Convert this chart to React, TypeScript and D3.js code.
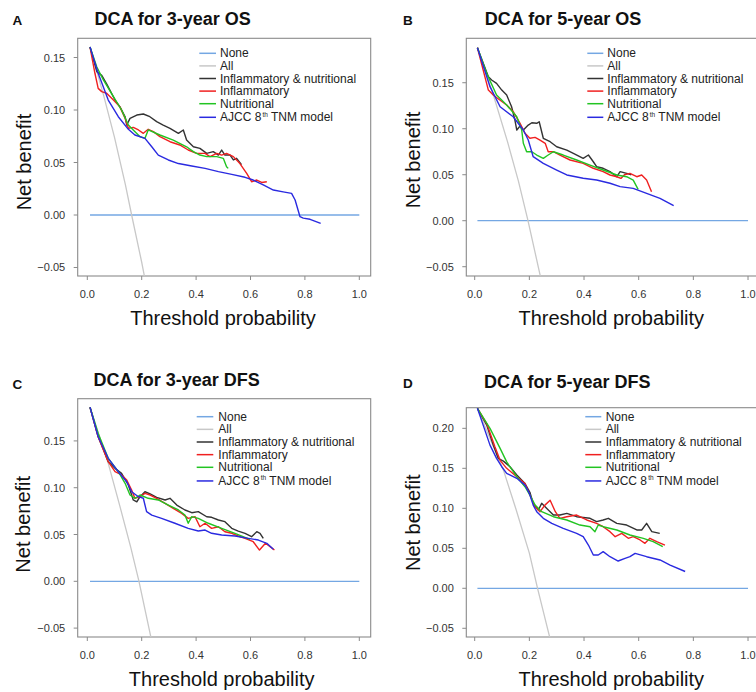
import React from "react";
import * as d3 from "d3";

type Pt = [number, number];

// ---------- tick labels / categories ----------
const xTicks = [0, 0.2, 0.4, 0.6, 0.8, 1.0];
const yTicksStd = [-0.05, 0, 0.05, 0.1, 0.15];
const yTicksD = [-0.05, 0, 0.05, 0.1, 0.15, 0.2];
const legendLabels = ["None", "All", "Inflammatory & nutritional", "Inflammatory", "Nutritional", "AJCC 8th TNM model"];
const panelTitles = ["DCA for 3-year OS", "DCA for 5-year OS", "DCA for 3-year DFS", "DCA for 5-year DFS"];
const panelLetters = ["A", "B", "C", "D"];

// ---------- series ----------
const noneLine: Pt[] = [[0.01, 0], [1, 0]];

// Panel A: 3-year OS
const aAll: Pt[] = [[0.01, 0.16], [0.06, 0.114], [0.10, 0.074], [0.14, 0.029], [0.163, 0], [0.2, -0.045], [0.215, -0.065]];
const aCombined: Pt[] = [[0.01, 0.16], [0.035, 0.1365], [0.053, 0.133], [0.071, 0.125], [0.083, 0.119], [0.102, 0.1095], [0.12, 0.103], [0.139, 0.0936], [0.145, 0.0857], [0.157, 0.092], [0.182, 0.0952], [0.206, 0.0962], [0.23, 0.0936], [0.255, 0.0889], [0.279, 0.0857], [0.304, 0.0826], [0.335, 0.0778], [0.353, 0.081], [0.365, 0.0714], [0.39, 0.065], [0.414, 0.0635], [0.439, 0.0587], [0.463, 0.0603], [0.482, 0.0571], [0.494, 0.0619], [0.506, 0.0571], [0.525, 0.0571], [0.537, 0.0524], [0.549, 0.054], [0.567, 0.048]];
const aInflam: Pt[] = [[0.01, 0.16], [0.028, 0.135], [0.04, 0.1206], [0.053, 0.1175], [0.071, 0.116], [0.096, 0.1095], [0.12, 0.103], [0.139, 0.092], [0.151, 0.0826], [0.169, 0.0835], [0.188, 0.081], [0.206, 0.0778], [0.224, 0.0816], [0.243, 0.0794], [0.267, 0.0746], [0.304, 0.0698], [0.34, 0.0667], [0.371, 0.0619], [0.402, 0.0587], [0.433, 0.0587], [0.451, 0.0556], [0.476, 0.0587], [0.494, 0.0571], [0.512, 0.0587], [0.537, 0.0556], [0.561, 0.049], [0.586, 0.0397], [0.604, 0.0317], [0.623, 0.0333], [0.641, 0.031], [0.66, 0.0317]];
const aNutri: Pt[] = [[0.01, 0.16], [0.035, 0.141], [0.059, 0.1286], [0.096, 0.1127], [0.126, 0.1], [0.151, 0.0857], [0.169, 0.081], [0.194, 0.0746], [0.212, 0.073], [0.224, 0.081], [0.267, 0.0762], [0.316, 0.0714], [0.365, 0.065], [0.39, 0.0603], [0.414, 0.0571], [0.439, 0.0556], [0.476, 0.0556], [0.5, 0.054], [0.512, 0.046], [0.518, 0.0444]];
const aAjcc: Pt[] = [[0.01, 0.16], [0.04, 0.135], [0.077, 0.1095], [0.114, 0.0936], [0.151, 0.0816], [0.175, 0.0762], [0.212, 0.073], [0.237, 0.065], [0.261, 0.057], [0.298, 0.0524], [0.335, 0.049], [0.384, 0.0467], [0.433, 0.0444], [0.482, 0.0413], [0.531, 0.0387], [0.58, 0.0359], [0.61, 0.0333], [0.647, 0.0286], [0.684, 0.0238], [0.72, 0.022], [0.751, 0.0206], [0.764, 0.0143], [0.782, -0.0016], [0.794, -0.003], [0.819, -0.0041], [0.858, -0.008]];

// Panel B: 5-year OS
const bAll: Pt[] = [[0.01, 0.188], [0.07, 0.135], [0.12, 0.086], [0.16, 0.043], [0.195, 0], [0.24, -0.06]];
const bCombined: Pt[] = [[0.01, 0.188], [0.05, 0.1565], [0.062, 0.153], [0.08, 0.1493], [0.099, 0.142], [0.117, 0.1366], [0.135, 0.1239], [0.147, 0.1095], [0.154, 0.0986], [0.166, 0.103], [0.178, 0.0986], [0.196, 0.104], [0.209, 0.1065], [0.227, 0.1059], [0.236, 0.1076], [0.251, 0.0896], [0.276, 0.0859], [0.3, 0.0804], [0.337, 0.0768], [0.361, 0.0733], [0.397, 0.0678], [0.416, 0.0714], [0.434, 0.0641], [0.446, 0.0587], [0.47, 0.057], [0.495, 0.0533], [0.52, 0.0478], [0.532, 0.0533], [0.556, 0.0515], [0.573, 0.05]];
const bInflam: Pt[] = [[0.01, 0.188], [0.05, 0.142], [0.068, 0.1366], [0.093, 0.131], [0.117, 0.1258], [0.141, 0.1185], [0.166, 0.1059], [0.184, 0.095], [0.202, 0.0896], [0.221, 0.0906], [0.239, 0.0877], [0.258, 0.0841], [0.269, 0.075], [0.288, 0.075], [0.312, 0.0714], [0.349, 0.066], [0.397, 0.0624], [0.434, 0.057], [0.47, 0.0533], [0.495, 0.0497], [0.52, 0.0478], [0.535, 0.046], [0.548, 0.05], [0.568, 0.0515], [0.593, 0.0478], [0.611, 0.0497], [0.629, 0.0442], [0.647, 0.0315]];
const bNutri: Pt[] = [[0.01, 0.188], [0.044, 0.1602], [0.08, 0.1366], [0.117, 0.1258], [0.154, 0.113], [0.172, 0.0986], [0.178, 0.0841], [0.19, 0.075], [0.209, 0.075], [0.227, 0.0714], [0.251, 0.0678], [0.269, 0.0714], [0.288, 0.075], [0.324, 0.0714], [0.373, 0.066], [0.422, 0.0605], [0.47, 0.0551], [0.52, 0.0497], [0.556, 0.0478], [0.58, 0.0442], [0.598, 0.0341]];
const bAjcc: Pt[] = [[0.01, 0.188], [0.056, 0.1457], [0.093, 0.1239], [0.141, 0.113], [0.178, 0.0986], [0.196, 0.0877], [0.214, 0.0696], [0.251, 0.0624], [0.3, 0.0551], [0.337, 0.0497], [0.397, 0.0461], [0.446, 0.0442], [0.495, 0.0407], [0.532, 0.037], [0.58, 0.0352], [0.629, 0.0298], [0.678, 0.0243], [0.728, 0.0163]];

// Panel C: 3-year DFS
const cAll: Pt[] = [[0.01, 0.186], [0.077, 0.126], [0.12, 0.08], [0.16, 0.036], [0.19, 0], [0.234, -0.06]];
const cCombined: Pt[] = [[0.01, 0.186], [0.04, 0.1545], [0.077, 0.1278], [0.102, 0.1207], [0.126, 0.1154], [0.151, 0.1029], [0.169, 0.0869], [0.182, 0.085], [0.194, 0.0904], [0.212, 0.0957], [0.231, 0.0933], [0.255, 0.0897], [0.286, 0.0869], [0.304, 0.0887], [0.329, 0.0815], [0.359, 0.0762], [0.384, 0.0733], [0.408, 0.0744], [0.439, 0.069], [0.457, 0.0684], [0.482, 0.0655], [0.506, 0.0637], [0.531, 0.0566], [0.555, 0.0537], [0.58, 0.0513], [0.604, 0.0477], [0.623, 0.053], [0.635, 0.0513], [0.647, 0.0459]];
const cInflam: Pt[] = [[0.01, 0.186], [0.04, 0.1545], [0.077, 0.1278], [0.102, 0.1171], [0.126, 0.1136], [0.145, 0.1082], [0.163, 0.0975], [0.175, 0.0887], [0.194, 0.0904], [0.212, 0.094], [0.231, 0.0922], [0.255, 0.0887], [0.286, 0.0833], [0.316, 0.078], [0.347, 0.0726], [0.371, 0.0673], [0.396, 0.0691], [0.414, 0.0583], [0.433, 0.062], [0.457, 0.0566], [0.482, 0.0583], [0.506, 0.053], [0.531, 0.0513], [0.555, 0.0484], [0.58, 0.0459], [0.61, 0.0423], [0.633, 0.0334], [0.655, 0.0406], [0.672, 0.037], [0.688, 0.0334]];
const cNutri: Pt[] = [[0.01, 0.186], [0.04, 0.158], [0.077, 0.1314], [0.114, 0.1171], [0.139, 0.1047], [0.157, 0.0922], [0.175, 0.0887], [0.194, 0.0922], [0.224, 0.0887], [0.261, 0.0869], [0.298, 0.0815], [0.335, 0.0762], [0.359, 0.0708], [0.371, 0.062], [0.384, 0.0691], [0.408, 0.0673], [0.445, 0.062], [0.494, 0.0566], [0.543, 0.0513], [0.598, 0.0449]];
const cAjcc: Pt[] = [[0.01, 0.186], [0.04, 0.1545], [0.077, 0.1314], [0.114, 0.1171], [0.145, 0.1064], [0.163, 0.0957], [0.188, 0.0904], [0.206, 0.0887], [0.218, 0.0744], [0.237, 0.0708], [0.273, 0.0673], [0.322, 0.062], [0.371, 0.0566], [0.408, 0.0537], [0.433, 0.0548], [0.457, 0.0513], [0.494, 0.0495], [0.543, 0.0484], [0.592, 0.0459], [0.629, 0.0441], [0.66, 0.0406], [0.684, 0.0342]];

// Panel D: 5-year DFS
const dAll: Pt[] = [[0.01, 0.225], [0.06, 0.184], [0.105, 0.148], [0.15, 0.1], [0.2, 0.044], [0.23, 0], [0.275, -0.062]];
const dCombined: Pt[] = [[0.01, 0.225], [0.044, 0.204], [0.068, 0.179], [0.086, 0.1625], [0.105, 0.159], [0.129, 0.152], [0.154, 0.1416], [0.184, 0.131], [0.202, 0.12], [0.214, 0.1062], [0.233, 0.0979], [0.245, 0.1062], [0.263, 0.1], [0.288, 0.0916], [0.312, 0.0916], [0.337, 0.0937], [0.373, 0.0895], [0.422, 0.0875], [0.446, 0.0833], [0.47, 0.0854], [0.489, 0.0875], [0.52, 0.0812], [0.556, 0.0791], [0.593, 0.0729], [0.611, 0.0729], [0.629, 0.0812], [0.648, 0.0708], [0.677, 0.0687]];
const dInflam: Pt[] = [[0.01, 0.225], [0.044, 0.206], [0.074, 0.177], [0.093, 0.16], [0.117, 0.15], [0.154, 0.1395], [0.184, 0.131], [0.202, 0.1166], [0.221, 0.102], [0.239, 0.0958], [0.257, 0.104], [0.276, 0.11], [0.295, 0.0958], [0.312, 0.0875], [0.337, 0.0895], [0.373, 0.0916], [0.41, 0.0854], [0.446, 0.0812], [0.47, 0.077], [0.495, 0.0708], [0.514, 0.0645], [0.538, 0.0687], [0.562, 0.0625], [0.58, 0.0645], [0.605, 0.0604], [0.623, 0.0562], [0.641, 0.0625], [0.666, 0.0583], [0.696, 0.0541]];
const dNutri: Pt[] = [[0.01, 0.225], [0.056, 0.2], [0.093, 0.175], [0.117, 0.158], [0.154, 0.1395], [0.184, 0.127], [0.202, 0.1166], [0.221, 0.104], [0.245, 0.0958], [0.288, 0.0895], [0.337, 0.0854], [0.385, 0.0791], [0.422, 0.077], [0.44, 0.0708], [0.452, 0.0791], [0.47, 0.077], [0.52, 0.0729], [0.568, 0.0666], [0.617, 0.0625], [0.653, 0.0583], [0.688, 0.052]];
const dAjcc: Pt[] = [[0.01, 0.225], [0.031, 0.204], [0.056, 0.179], [0.08, 0.1625], [0.099, 0.152], [0.117, 0.1437], [0.154, 0.1375], [0.184, 0.129], [0.2, 0.1187], [0.214, 0.104], [0.227, 0.0958], [0.251, 0.0875], [0.282, 0.0812], [0.324, 0.075], [0.373, 0.0687], [0.397, 0.0645], [0.416, 0.0541], [0.434, 0.0416], [0.452, 0.0416], [0.47, 0.0458], [0.495, 0.0395], [0.525, 0.0341], [0.55, 0.0375], [0.568, 0.0395], [0.587, 0.0437], [0.629, 0.0395], [0.678, 0.0354], [0.715, 0.0291], [0.77, 0.021]];

// ---------- styles ----------
const seriesColors = ["#74a7e3", "#c8c8c8", "#333333", "#f02020", "#22c422", "#2a2ae0"];
const FONT = "'Liberation Sans', Arial, sans-serif";

interface PanelCfg {
  series: Pt[][];
  yTicks: number[];
  box: { l: number; t: number; r: number; b: number };
  xDom: [number, number];
  yDom: [number, number];
  title: { x: number; y: number };
  letter: { x: number; y: number };
  ylab: { x: number; y: number };
  xlab: { x: number; y: number };
  legend: { x0: number; x1: number; tx: number; y0: number; dy: number };
}

const panels: PanelCfg[] = [
  {
    series: [noneLine, aAll, aCombined, aInflam, aNutri, aAjcc],
    yTicks: yTicksStd,
    box: { l: 77.7, t: 38.3, r: 370.7, b: 276 },
    xDom: [-0.0353, 1.0419],
    yDom: [-0.0581, 0.1683],
    title: { x: 172.7, y: 25 },
    letter: { x: 12.5, y: 25 },
    ylab: { x: 24, y: 162 },
    xlab: { x: 223, y: 325 },
    legend: { x0: 199.3, x1: 216, tx: 220, y0: 53.3, dy: 12.6 },
  },
  {
    series: [noneLine, bAll, bCombined, bInflam, bNutri, bAjcc],
    yTicks: yTicksStd,
    box: { l: 466.3, t: 38.3, r: 759.5, b: 276 },
    xDom: [-0.0307, 1.042],
    yDom: [-0.0601, 0.1983],
    title: { x: 563, y: 25 },
    letter: { x: 403, y: 25 },
    ylab: { x: 413, y: 160 },
    xlab: { x: 611.3, y: 325 },
    legend: { x0: 587.3, x1: 603.3, tx: 607.3, y0: 53.3, dy: 12.6 },
  },
  {
    series: [noneLine, cAll, cCombined, cInflam, cNutri, cAjcc],
    yTicks: yTicksStd,
    box: { l: 77.7, t: 398.7, r: 370.7, b: 637 },
    xDom: [-0.0353, 1.0419],
    yDom: [-0.0595, 0.1951],
    title: { x: 176.7, y: 386 },
    letter: { x: 12.5, y: 388.5 },
    ylab: { x: 23.3, y: 524.3 },
    xlab: { x: 221.7, y: 686 },
    legend: { x0: 196.7, x1: 213.3, tx: 218.3, y0: 416.7, dy: 12.65 },
  },
  {
    series: [noneLine, dAll, dCombined, dInflam, dNutri, dAjcc],
    yTicks: yTicksD,
    box: { l: 466.3, t: 407.7, r: 759.5, b: 637 },
    xDom: [-0.0307, 1.042],
    yDom: [-0.0609, 0.2258],
    title: { x: 567.3, y: 387.7 },
    letter: { x: 403, y: 388 },
    ylab: { x: 413, y: 522.7 },
    xlab: { x: 611.3, y: 686 },
    legend: { x0: 585.3, x1: 601.3, tx: 605.7, y0: 416.7, dy: 12.65 },
  },
];

function Panel({ cfg, idx }: { cfg: PanelCfg; idx: number }) {
  const { box } = cfg;
  const x = d3.scaleLinear().domain(cfg.xDom).range([box.l, box.r]);
  const y = d3.scaleLinear().domain(cfg.yDom).range([box.b, box.t]);
  const line = d3
    .line<Pt>()
    .x((d) => x(d[0]))
    .y((d) => y(d[1]));
  const clipId = `clip-${idx}`;
  const axisColor = "#8a8a8a";
  const fmtY = d3.format(".2f");
  const fmtX = d3.format(".1f");
  return (
    <g>
      <defs>
        <clipPath id={clipId}>
          <rect x={box.l} y={box.t} width={box.r - box.l} height={box.b - box.t} />
        </clipPath>
      </defs>
      {/* box */}
      <rect x={box.l} y={box.t} width={box.r - box.l} height={box.b - box.t} fill="none" stroke={axisColor} strokeWidth={1.1} />
      {/* y ticks */}
      {cfg.yTicks.map((t) => (
        <g key={"y" + t}>
          <line x1={box.l - 4} x2={box.l} y1={y(t)} y2={y(t)} stroke={axisColor} strokeWidth={1} />
          <text x={box.l - 12.5} y={y(t)} dominantBaseline="central" textAnchor="end" fontSize={11} fill="#333" fontFamily={FONT}>
            {fmtY(t)}
          </text>
        </g>
      ))}
      {/* x ticks */}
      {xTicks.map((t) => (
        <g key={"x" + t}>
          <line x1={x(t)} x2={x(t)} y1={box.b} y2={box.b + 4} stroke={axisColor} strokeWidth={1} />
          <text x={x(t)} y={box.b + 21.5} textAnchor="middle" fontSize={11} fill="#333" fontFamily={FONT}>
            {fmtX(t)}
          </text>
        </g>
      ))}
      {/* series */}
      <g clipPath={`url(#${clipId})`}>
        {cfg.series.map((s, i) => (
          <path key={i} d={line(s) || ""} fill="none" stroke={seriesColors[i]} strokeWidth={i < 2 ? 1.3 : 1.4} strokeLinejoin="round" />
        ))}
      </g>
      {/* legend */}
      {legendLabels.map((lab, i) => {
        const ly = cfg.legend.y0 + i * cfg.legend.dy + (i === 5 ? 1 : 0);
        const tx = cfg.legend.tx;
        return (
          <g key={"l" + i}>
            <line x1={cfg.legend.x0} x2={cfg.legend.x1} y1={ly} y2={ly} stroke={seriesColors[i]} strokeWidth={1.5} />
            {i === 5 ? (
              <>
                <text x={tx} y={ly} dominantBaseline="central" fontSize={12} fill="#222" fontFamily={FONT}>
                  {"AJCC 8"}
                </text>
                <text x={tx + 42.5} y={ly - 3} dominantBaseline="central" fontSize={6.5} fill="#222" fontFamily={FONT}>
                  th
                </text>
                <text x={tx + 51} y={ly} dominantBaseline="central" fontSize={12} fill="#222" fontFamily={FONT}>
                  {"TNM model"}
                </text>
              </>
            ) : (
              <text x={tx} y={ly} dominantBaseline="central" fontSize={12} fill="#222" fontFamily={FONT}>
                {lab}
              </text>
            )}
          </g>
        );
      })}
      {/* titles */}
      <text x={cfg.title.x} y={cfg.title.y} textAnchor="middle" fontSize={18} fontWeight="bold" fill="#111" fontFamily={FONT}>
        {panelTitles[idx]}
      </text>
      <text x={cfg.letter.x} y={cfg.letter.y} fontSize={13.5} fontWeight="bold" fill="#111" fontFamily={FONT}>
        {panelLetters[idx]}
      </text>
      <text
        transform={`translate(${cfg.ylab.x},${cfg.ylab.y}) rotate(-90)`}
        textAnchor="middle"
        dominantBaseline="central"
        fontSize={20}
        fill="#111"
        fontFamily={FONT}
      >
        Net benefit
      </text>
      <text x={cfg.xlab.x} y={cfg.xlab.y} textAnchor="middle" fontSize={20} fill="#111" fontFamily={FONT}>
        Threshold probability
      </text>
    </g>
  );
}

export default function App() {
  return (
    <svg
      width={756}
      height={692}
      viewBox="0 0 756 692"
      style={{ position: "absolute", left: 0, top: 0, background: "#fff" }}
    >
      <rect x={0} y={0} width={756} height={692} fill="#fff" />
      {panels.map((p, i) => (
        <Panel key={i} cfg={p} idx={i} />
      ))}
    </svg>
  );
}
